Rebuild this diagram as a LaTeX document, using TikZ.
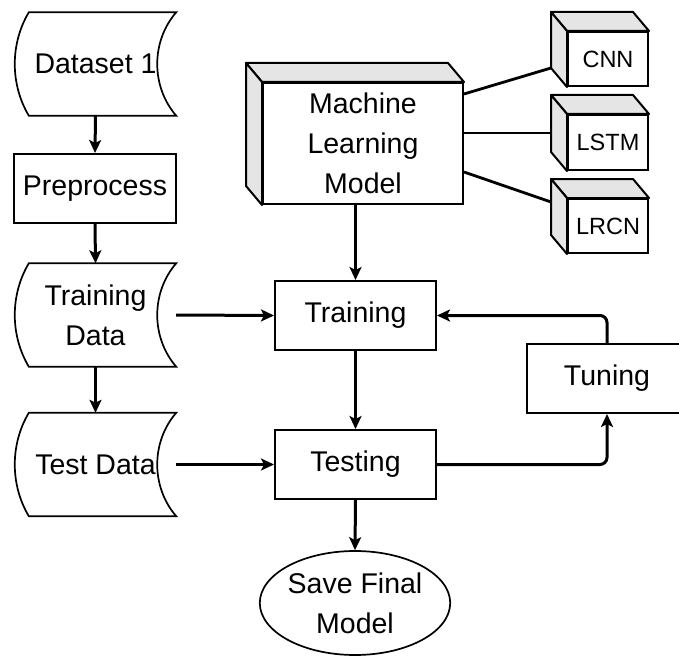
\documentclass[tikz,border=0pt]{standalone}
\usepackage{fontspec}
\setmainfont{Liberation Sans}
\usetikzlibrary{calc,arrows.meta,shapes.geometric}
\begin{document}
\begin{tikzpicture}[x=1pt,y=-1pt,
  box/.style={draw,line width=2pt,minimum width=161pt,minimum height=69pt,inner sep=0pt,align=center,font=\fontsize{28.5}{40}\selectfont},
  datanode/.style={minimum width=161pt,minimum height=103pt,inner sep=0pt,align=center,font=\fontsize{28.5}{40}\selectfont},
  cubefront/.style={draw,line width=2pt,fill=white,inner sep=0pt,align=center},
  face/.style={draw,line width=2pt,fill=black!10,line join=round},
  shapeline/.style={draw,line width=1.7pt},
  arr/.style={line width=3pt,-{Stealth[length=13pt,width=12pt,inset=3pt]}},
  link/.style={line width=2.8pt}
]
\useasboundingbox (0,0) rectangle (679,655);
\clip (0,0) rectangle (679,655);
\fill[white] (0,0) rectangle (679,655);

\newcommand\datashape[1]{%
  \draw[shapeline] ($(#1.north west)+(14,0)$) -- (#1.north east)
    .. controls ($(#1.north east)+(-25.3,29.3)$) and ($(#1.south east)+(-25.3,-29.3)$) .. (#1.south east)
    -- ($(#1.south west)+(14,0)$)
    .. controls ($(#1.south west)+(-4.7,-31.5)$) and ($(#1.north west)+(-4.7,31.5)$) .. cycle;}
\newcommand\cubefaces[1]{%
  \draw[face] (#1.north west) -- (#1.north east) -- ($(#1.north east)+(-16,-19)$) -- ($(#1.north west)+(-16,-19)$) -- cycle;
  \draw[face] (#1.north west) -- (#1.south west) -- ($(#1.south west)+(-16,-19)$) -- ($(#1.north west)+(-16,-19)$) -- cycle;}

% left column
\node[datanode] (ds) at (95.5,64) {Dataset 1};
\datashape{ds}
\node[box,minimum width=162pt] (pre) at (95,188.5) {Preprocess};
\node[datanode] (trd) at (95.5,315) {Training\\Data};
\datashape{trd}
\node[datanode] (ted) at (95.5,464.5) {Test Data};
\datashape{ted}

% machine learning model cube
\node[cubefront,minimum width=200pt,minimum height=121pt,font=\fontsize{28.5}{40}\selectfont] (ml) at (363,143.5) {Machine\\Learning\\Model};
\cubefaces{ml}

% small cubes
\node[cubefront,minimum width=80pt,minimum height=54pt,font=\fontsize{23.5}{28}\selectfont] (cnn) at (608,59) {CNN};
\cubefaces{cnn}
\node[cubefront,minimum width=80pt,minimum height=55pt,font=\fontsize{23.5}{28}\selectfont] (lstm) at (608,142.5) {LSTM};
\cubefaces{lstm}
\node[cubefront,minimum width=80pt,minimum height=54pt,font=\fontsize{23.5}{28}\selectfont] (lrcn) at (608,226) {LRCN};
\cubefaces{lrcn}

% middle column
\node[box] (train) at (355.5,315.5) {Training};
\node[box] (test) at (355.5,464.5) {Testing};
\node[box,minimum width=160pt] (tune) at (607,378.5) {Tuning};
\node[draw,ellipse,line width=1.7pt,minimum width=184pt,minimum height=104pt,inner sep=0pt,align=center,font=\fontsize{28.5}{40}\selectfont] (save) at (355,603) {Save Final\\Model};

% connectors
\draw[arr] (ds.south) -- (pre.north);
\draw[arr] (pre.south) -- (trd.north);
\draw[arr] (trd.south) -- (ted.north);
\draw[arr] (trd.east) -- (train.west);
\draw[arr] (ted.east) -- (test.west);
\draw[arr] (train.north |- ml.south) -- (train.north);
\draw[arr] (train.south) -- (test.north);
\draw[arr] (test.south) -- (save.north);
\draw[arr,rounded corners=7pt] (test.east) -| (tune.south);
\draw[arr,rounded corners=7pt] (tune.north) |- (train.east);

\draw[link] ($(ml.north east)+(0,12)$) -- ($(cnn.south west)+(-16,-19)$);
\draw[link] ($(ml.east)+(0,-10.5)$) -- ($(lstm.west)+(-16,-9.5)$);
\draw[link] ($(ml.east)+(0,28.5)$) -- ($(lrcn.west)+(-16,-24)$);
\end{tikzpicture}
\end{document}
